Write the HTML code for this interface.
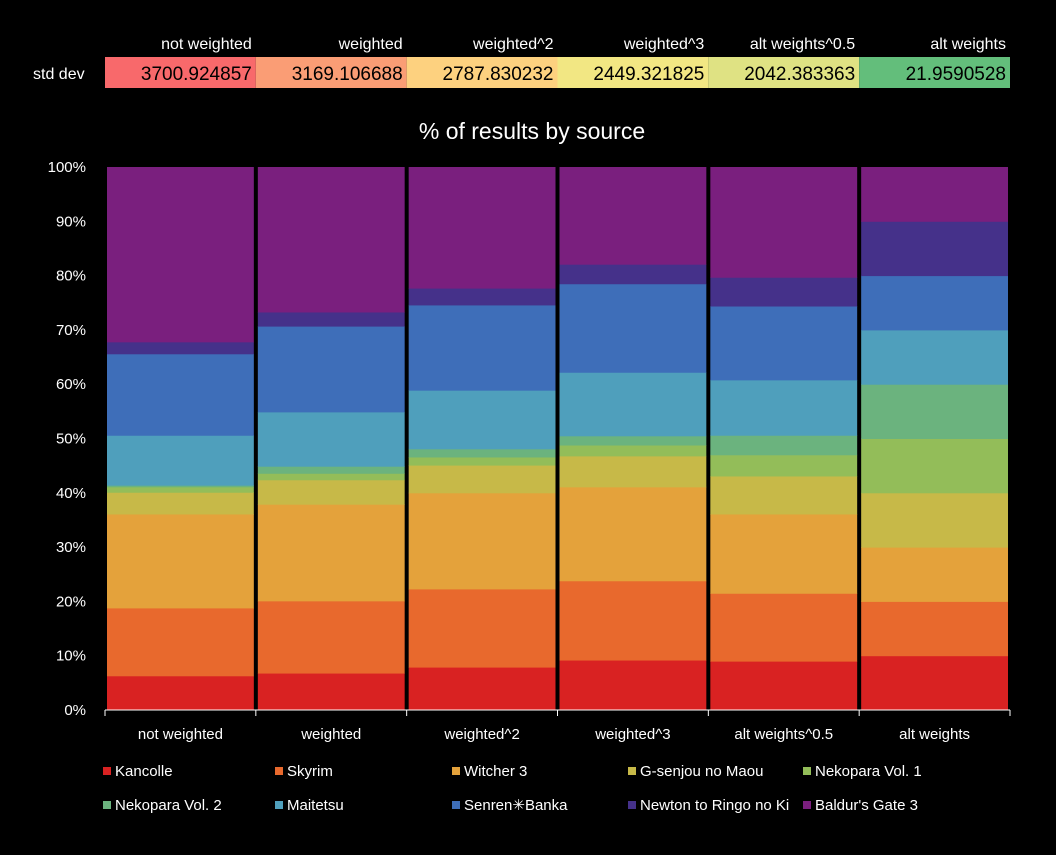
<!DOCTYPE html>
<html><head><meta charset="utf-8"><style>
body{margin:0;background:#000;width:1056px;height:850px;overflow:hidden;font-family:"Liberation Sans","Noto Sans CJK JP",sans-serif;color:#fff}
svg text{font-family:"Liberation Sans","Noto Sans CJK JP",sans-serif}
</style></head><body>
<svg id="c" width="1056" height="850"></svg>
<script>
const categories=["not weighted","weighted","weighted^2","weighted^3","alt weights^0.5","alt weights"];
const stdDev=["3700.924857","3169.106688","2787.830232","2449.321825","2042.383363","21.9590528"];
const stdColors=["#f8696b","#fa9d75","#fdd17f","#f2e783","#dfe283","#63be7b"];
const series=["Kancolle","Skyrim","Witcher 3","G-senjou no Maou","Nekopara Vol. 1","Nekopara Vol. 2","Maitetsu","Senren\u2733Banka","Newton to Ringo no Ki","Baldur's Gate 3"];
const colors=["#d92222","#e8692d","#e4a23b","#c7b948","#93bd59","#6bb37e","#4f9fbc","#3e6eb9","#45318a","#7a1f7e"];
const sKancolle=[6.3,6.8,7.9,9.2,9.0,10];
const sSkyrim=[12.5,13.3,14.4,14.6,12.5,10];
const sWitcher=[17.3,17.8,17.7,17.3,14.6,10];
const sGsenjou=[4.0,4.5,5.1,5.7,7.0,10];
const sNeko1=[1.0,1.2,1.5,2.0,3.9,10];
const sNeko2=[0.3,1.3,1.5,1.7,3.6,10];
const sMaitetsu=[9.2,10.0,10.8,11.7,10.2,10];
const sSenren=[15.0,15.8,15.7,16.3,13.6,10];
const sNewton=[2.2,2.6,3.1,3.6,5.3,10];
const sBaldur=[32.2,26.7,22.3,17.9,20.3,10];
const values=[sKancolle,sSkyrim,sWitcher,sGsenjou,sNeko1,sNeko2,sMaitetsu,sSenren,sNewton,sBaldur];
const yTicks=[0,10,20,30,40,50,60,70,80,90,100];
const NS="http://www.w3.org/2000/svg";
const svg=document.getElementById('c');
const X0=105,X1=1010,Y0=710,Y1=167;
const bw=(X1-X0)/categories.length;
const y=v=>Y0-(v/100)*(Y0-Y1);
function mk(t,a,p){const e=document.createElementNS(NS,t);for(const k in a)e.setAttribute(k,a[k]);(p||svg).appendChild(e);return e;}
// table
let t=mk('text',{x:33,y:79,fill:'#fff','font-size':16});t.textContent='std dev';


categories.forEach((c,i)=>{
 const x=X0+i*bw;
 let h=mk('text',{x:x+bw-4,y:49,fill:'#fff','font-size':16,'text-anchor':'end'});h.textContent=c;
 
 
 let r=mk('rect',{x:x,y:57,width:bw,height:31,fill:stdColors[i]});
 
 
 let v=mk('text',{x:x+bw-4,y:80,fill:'#000','font-size':19,'text-anchor':'end'});v.textContent=stdDev[i];
 
 
});
let ti=mk('text',{x:532,y:139,fill:'#fff','font-size':23,'text-anchor':'middle'});ti.textContent='% of results by source';


yTicks.forEach(v=>{let e=mk('text',{x:86,y:y(v)+5,fill:'#fff','font-size':15,'text-anchor':'end'});e.textContent=v+'%';
 
 });
categories.forEach((c,i)=>{
 let cum=0;const x=X0+i*bw;
 values.forEach((s,j)=>{
  const v=s[i];
  const r=mk('rect',{x:x+2,y:y(cum+v),width:bw-4,height:y(cum)-y(cum+v)+0.5,fill:colors[j]});
  
  
  cum+=v;
 });
 let l=mk('text',{x:x+bw/2,y:739,fill:'#fff','font-size':15,'text-anchor':'middle'});l.textContent=c;
 
 
 let tk=mk('line',{x1:x,x2:x,y1:Y0,y2:Y0+6,stroke:'#fff'});
 
 
});
let tk=mk('line',{x1:X1,x2:X1,y1:Y0,y2:Y0+6,stroke:'#fff'});
let ax=mk('line',{x1:X0,x2:X1,y1:Y0,y2:Y0,stroke:'#fff'});


const lx=[103,275,452,628,803];
series.forEach((s,j)=>{
 const x=lx[j%5],yy=j<5?772:806;
 const g=mk('g',{});
 
 
 mk('rect',{x:x,y:yy-5,width:8,height:8,fill:colors[j]},g);
 const e=mk('text',{x:x+12,y:yy+4,fill:'#fff','font-size':15},g);e.textContent=s;
});
</script>
</body></html>
